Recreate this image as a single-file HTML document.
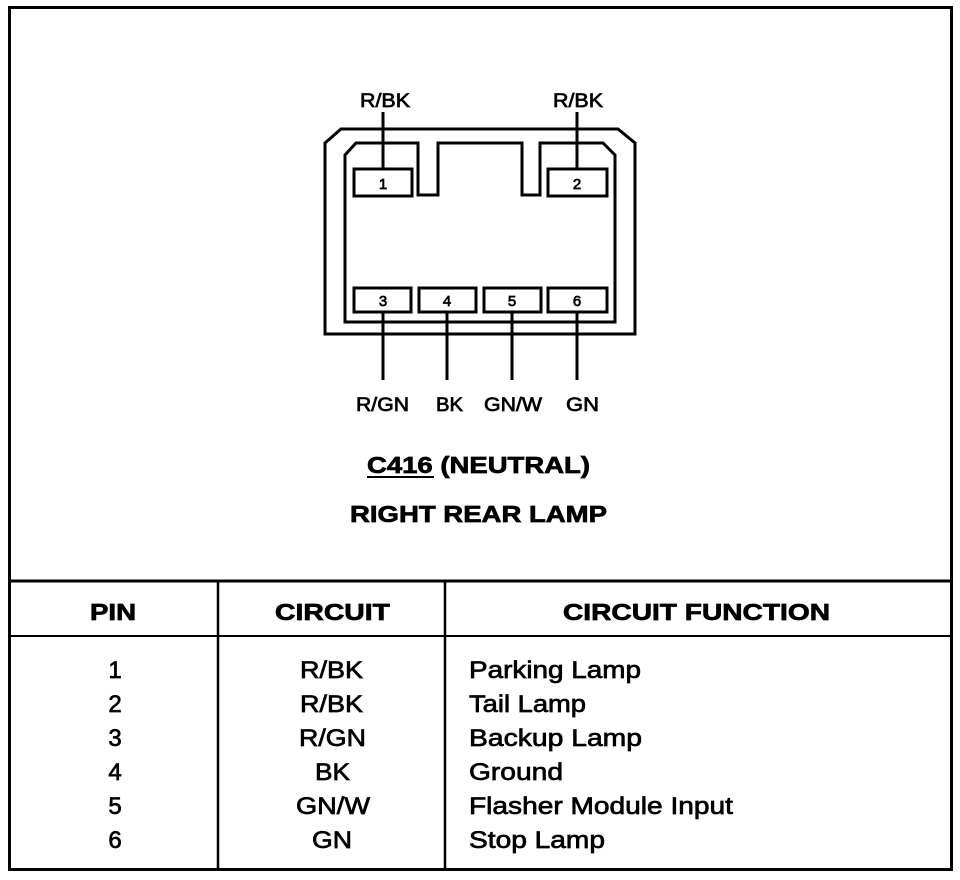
<!DOCTYPE html>
<html><head><meta charset="utf-8"><style>
html,body{margin:0;padding:0;background:#fff}
svg{display:block}
text{font-family:"Liberation Sans",Arial,sans-serif;fill:#000;stroke:#000;stroke-width:0.7}
</style></head><body>
<svg width="960" height="880" viewBox="0 0 960 880" xmlns="http://www.w3.org/2000/svg">
<rect x="0" y="0" width="960" height="880" fill="#fff"/>
<rect x="9.5" y="7.5" width="942" height="862" fill="none" stroke="#000" stroke-width="3"/>
<line x1="9" y1="581" x2="952" y2="581" stroke="#000" stroke-width="3"/>
<line x1="9" y1="636" x2="952" y2="636" stroke="#000" stroke-width="2"/>
<line x1="218" y1="581" x2="218" y2="870" stroke="#000" stroke-width="2.5"/>
<line x1="445" y1="581" x2="445" y2="870" stroke="#000" stroke-width="2.5"/>
<polygon points="325,143 341,129 618,129 635,143 635,334 325,334" fill="none" stroke="#000" stroke-width="3"/>
<polygon points="345,155 356,143 418,143 418,195 438,195 438,143 522,143 522,195 540,195 540,143 603,143 615,155 615,322 345,322" fill="none" stroke="#000" stroke-width="3"/>
<g fill="none" stroke="#000" stroke-width="3">
<rect x="354" y="169" width="58" height="27"/>
<rect x="548" y="169" width="59" height="27"/>
<rect x="354" y="288" width="57" height="24"/>
<rect x="419" y="288" width="57" height="24"/>
<rect x="484" y="288" width="57" height="24"/>
<rect x="548" y="288" width="59" height="24"/>
<line x1="383" y1="112" x2="383" y2="169"/>
<line x1="577" y1="112" x2="577" y2="169"/>
<line x1="383" y1="312" x2="383" y2="380"/>
<line x1="447" y1="312" x2="447" y2="380"/>
<line x1="512" y1="312" x2="512" y2="380"/>
<line x1="577" y1="312" x2="577" y2="380"/>
</g>
<g font-size="15" text-anchor="middle" style="stroke-width:0.4">
<text x="383" y="189">1</text><text x="577" y="189">2</text>
<text x="383" y="306">3</text><text x="447" y="306">4</text><text x="512" y="306">5</text><text x="577" y="306">6</text>
</g>
<g font-size="19" lengthAdjust="spacingAndGlyphs">
<text x="360" y="107" textLength="50" lengthAdjust="spacingAndGlyphs">R/BK</text>
<text x="553" y="107" textLength="50" lengthAdjust="spacingAndGlyphs">R/BK</text>
<text x="356" y="411" textLength="53" lengthAdjust="spacingAndGlyphs">R/GN</text>
<text x="436" y="411" textLength="27" lengthAdjust="spacingAndGlyphs">BK</text>
<text x="484" y="411" textLength="58" lengthAdjust="spacingAndGlyphs">GN/W</text>
<text x="566" y="411" textLength="33" lengthAdjust="spacingAndGlyphs">GN</text>
</g>
<g font-size="23" font-weight="bold" style="stroke-width:0.3">
<text x="367" y="473" textLength="223" lengthAdjust="spacingAndGlyphs">C416 (NEUTRAL)</text>
<text x="350" y="522" textLength="257" lengthAdjust="spacingAndGlyphs">RIGHT REAR LAMP</text>
<text x="90" y="620" textLength="46" lengthAdjust="spacingAndGlyphs">PIN</text>
<text x="275" y="620" textLength="115" lengthAdjust="spacingAndGlyphs">CIRCUIT</text>
<text x="563" y="620" textLength="267" lengthAdjust="spacingAndGlyphs">CIRCUIT FUNCTION</text>
</g>
<line x1="367" y1="477" x2="434" y2="477" stroke="#000" stroke-width="2"/>
<g font-size="24" text-anchor="middle">
<text x="115" y="678">1</text><text x="115" y="712">2</text><text x="115" y="746">3</text><text x="115" y="780">4</text><text x="115" y="814">5</text><text x="115" y="848">6</text>
</g>
<g font-size="24">
<text x="300" y="678" textLength="63" lengthAdjust="spacingAndGlyphs">R/BK</text>
<text x="300" y="712" textLength="63" lengthAdjust="spacingAndGlyphs">R/BK</text>
<text x="299" y="746" textLength="67" lengthAdjust="spacingAndGlyphs">R/GN</text>
<text x="315" y="780" textLength="35" lengthAdjust="spacingAndGlyphs">BK</text>
<text x="296" y="814" textLength="74" lengthAdjust="spacingAndGlyphs">GN/W</text>
<text x="312" y="848" textLength="40" lengthAdjust="spacingAndGlyphs">GN</text>
<text x="469" y="678" textLength="172" lengthAdjust="spacingAndGlyphs">Parking Lamp</text>
<text x="469" y="712" textLength="117" lengthAdjust="spacingAndGlyphs">Tail Lamp</text>
<text x="469" y="746" textLength="173" lengthAdjust="spacingAndGlyphs">Backup Lamp</text>
<text x="469" y="780" textLength="94" lengthAdjust="spacingAndGlyphs">Ground</text>
<text x="469" y="814" textLength="264" lengthAdjust="spacingAndGlyphs">Flasher Module Input</text>
<text x="469" y="848" textLength="136" lengthAdjust="spacingAndGlyphs">Stop Lamp</text>
</g>
</svg>
</body></html>
